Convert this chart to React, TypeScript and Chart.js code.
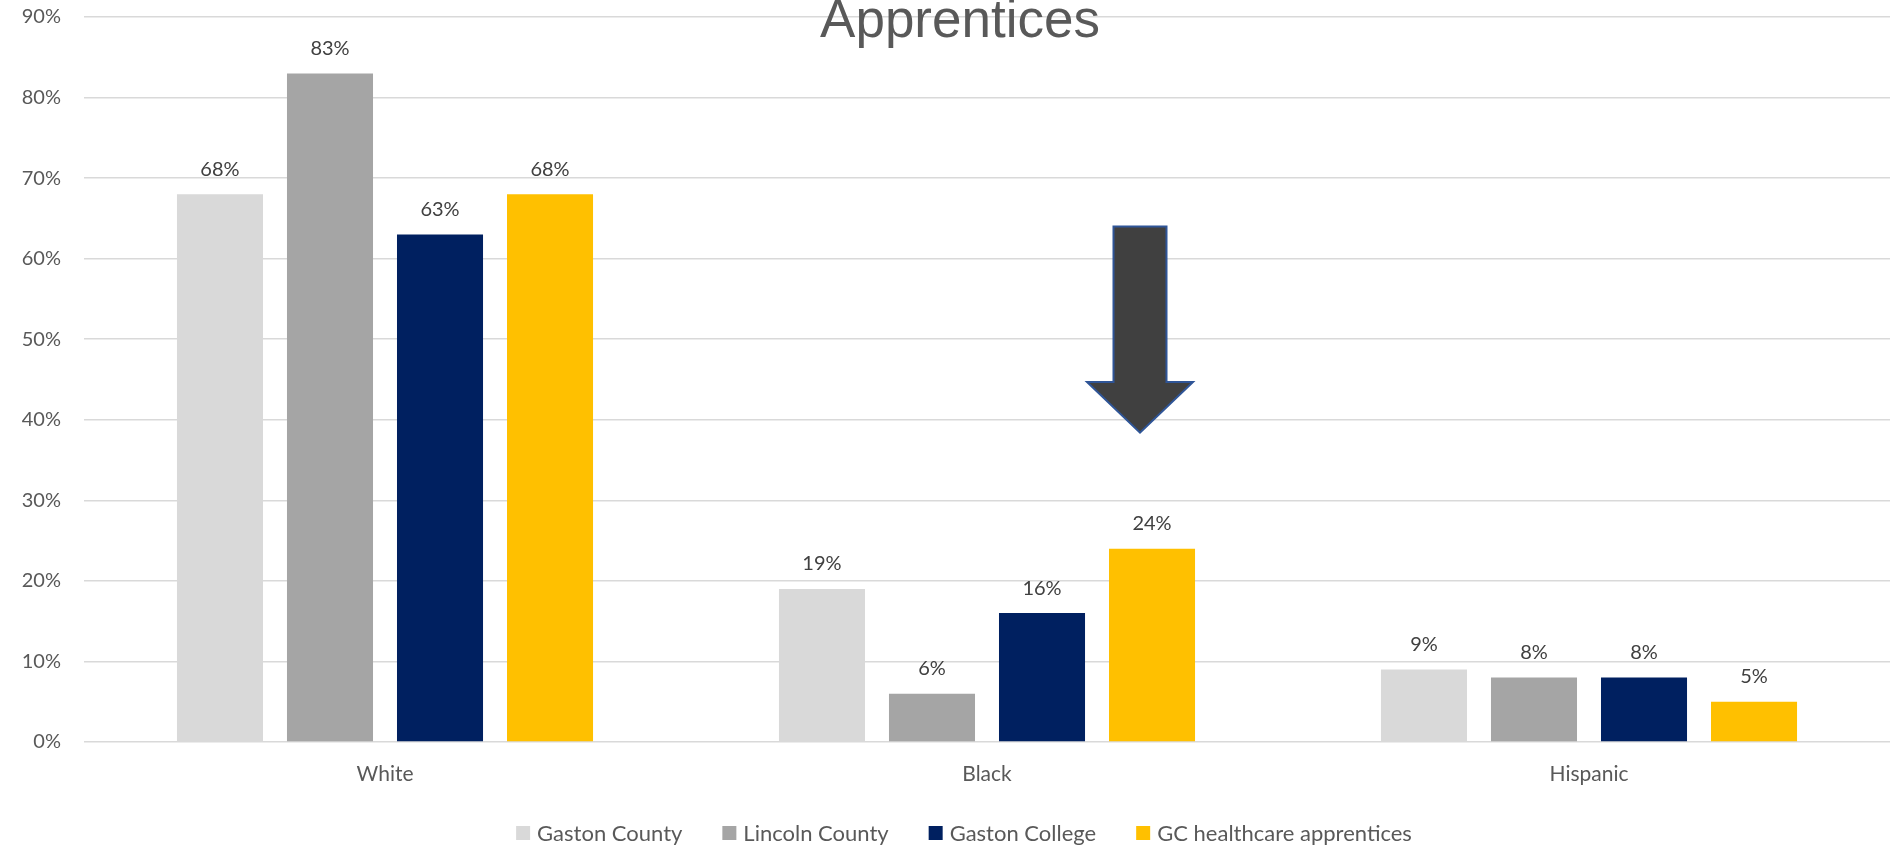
import React, { useEffect, useRef } from "react";
import { Chart, registerables } from "chart.js";

Chart.register(...registerables);

const categories = ["White", "Black", "Hispanic"];
const seriesNames = ["Gaston County", "Lincoln County", "Gaston College", "GC healthcare apprentices"];
const gastonCounty = [68, 19, 9];
const lincolnCounty = [83, 6, 8];
const gastonCollege = [63, 16, 8];
const gcHealthcare = [68, 24, 5];
const yTicks = [0, 10, 20, 30, 40, 50, 60, 70, 80, 90];
const titleText = "Apprentices";

const seriesColors = ["#D9D9D9", "#A5A5A5", "#002060", "#FFC000"];
const TEXT = "#595959";
const LABEL_TEXT = "#404040";
const FONT = "Lato, 'Open Sans', sans-serif";

// Arrow annotation (values on the y scale, offset from the "Black" category centre)
const ARROW = { category: 1, dx: 153, top: 64, headStart: 44.7, tip: 38.4, shaftHalf: 26.5, headHalf: 53 };

export default function App() {
  const ref = useRef<HTMLCanvasElement | null>(null);

  useEffect(() => {
    document.body.style.margin = "0";
    const canvas = ref.current!;
    const values = [gastonCounty, lincolnCounty, gastonCollege, gcHealthcare];

    const overlay = {
      id: "overlay",
      afterDatasetsDraw(chart: any) {
        const ctx = chart.ctx;
        ctx.save();
        ctx.font = `20px ${FONT}`;
        ctx.fillStyle = LABEL_TEXT;
        ctx.textAlign = "center";
        ctx.textBaseline = "middle";
        chart.data.datasets.forEach((ds: any, i: number) => {
          const meta = chart.getDatasetMeta(i);
          meta.data.forEach((bar: any, j: number) => {
            ctx.fillText(ds.data[j] + "%", bar.x, bar.y - 25);
          });
        });
        ctx.restore();

        const xs = chart.scales.x;
        const ys = chart.scales.y;
        const cx = xs.getPixelForValue(ARROW.category) + ARROW.dx;
        const yTop = ys.getPixelForValue(ARROW.top);
        const yHead = ys.getPixelForValue(ARROW.headStart);
        const yTip = ys.getPixelForValue(ARROW.tip);
        ctx.save();
        ctx.beginPath();
        ctx.moveTo(cx - ARROW.shaftHalf, yTop);
        ctx.lineTo(cx + ARROW.shaftHalf, yTop);
        ctx.lineTo(cx + ARROW.shaftHalf, yHead);
        ctx.lineTo(cx + ARROW.headHalf, yHead);
        ctx.lineTo(cx, yTip);
        ctx.lineTo(cx - ARROW.headHalf, yHead);
        ctx.lineTo(cx - ARROW.shaftHalf, yHead);
        ctx.closePath();
        ctx.fillStyle = "#404040";
        ctx.fill();
        ctx.lineWidth = 2;
        ctx.strokeStyle = "#2F5597";
        ctx.lineJoin = "miter";
        ctx.stroke();
        ctx.restore();
      },
      afterDraw(chart: any) {
        const ctx = chart.ctx;
        ctx.save();
        ctx.font = `53px 'Liberation Sans', Arial, sans-serif`;
        ctx.fillStyle = TEXT;
        ctx.textAlign = "center";
        ctx.textBaseline = "alphabetic";
        ctx.fillText(titleText, 960, 37);
        ctx.restore();

        ctx.save();
        ctx.font = `22px ${FONT}`;
        ctx.textBaseline = "middle";
        ctx.textAlign = "left";
        const box = 14, gap = 7, spacing = 40;
        const items = chart.data.datasets.map((ds: any) => ({
          label: ds.label,
          color: ds.backgroundColor,
          w: ctx.measureText(ds.label).width,
        }));
        const total = items.reduce((s: number, it: any) => s + box + gap + it.w, 0) + spacing * (items.length - 1);
        let x = 964 - total / 2;
        const cy = 833;
        items.forEach((it: any) => {
          ctx.fillStyle = it.color;
          ctx.fillRect(x, cy - box / 2, box, box);
          x += box + gap;
          ctx.fillStyle = TEXT;
          ctx.fillText(it.label, x, cy + 1);
          x += it.w + spacing;
        });
        ctx.restore();
      },
    };

    const chart = new Chart(canvas, {
      type: "bar",
      data: {
        labels: categories,
        datasets: seriesNames.map((name, i) => ({
          label: name,
          data: values[i],
          backgroundColor: seriesColors[i],
          borderWidth: 0,
          categoryPercentage: 0.731,
          barPercentage: 0.782,
        })),
      },
      options: {
        responsive: false,
        animation: false,
        devicePixelRatio: 1,
        layout: { padding: { top: 0, right: 0, bottom: 0, left: 0 } },
        plugins: {
          legend: { display: false },
          title: { display: false },
          tooltip: { enabled: false },
        },
        scales: {
          x: {
            grid: { display: false, drawTicks: false },
            border: { display: false },
            ticks: { color: TEXT, font: { family: FONT, size: 21 }, padding: 20 },
            afterFit(scale: any) {
              scale.height = 103;
              scale.paddingLeft = 0;
              scale.paddingRight = 0;
            },
          },
          y: {
            min: 0,
            max: 90,
            afterBuildTicks(scale: any) {
              scale.ticks = yTicks.map((v) => ({ value: v }));
            },
            grid: { color: "#D9D9D9", lineWidth: 1.5, drawTicks: false },
            border: { display: false },
            ticks: {
              color: TEXT,
              font: { family: FONT, size: 20 },
              padding: 23,
              callback: (v: any) => v + "%",
            },
            afterFit(scale: any) {
              scale.width = 84;
              scale.paddingTop = 17;
              scale.paddingBottom = 0;
            },
          },
        },
      },
      plugins: [overlay],
    });

    if ((document as any).fonts && (document as any).fonts.ready) {
      (document as any).fonts.ready.then(() => chart.update());
    }

    return () => chart.destroy();
  }, []);

  return (
    <div style={{ width: 1890, height: 845, background: "#fff" }}>
      <canvas ref={ref} width={1890} height={845} style={{ display: "block" }} />
    </div>
  );
}
